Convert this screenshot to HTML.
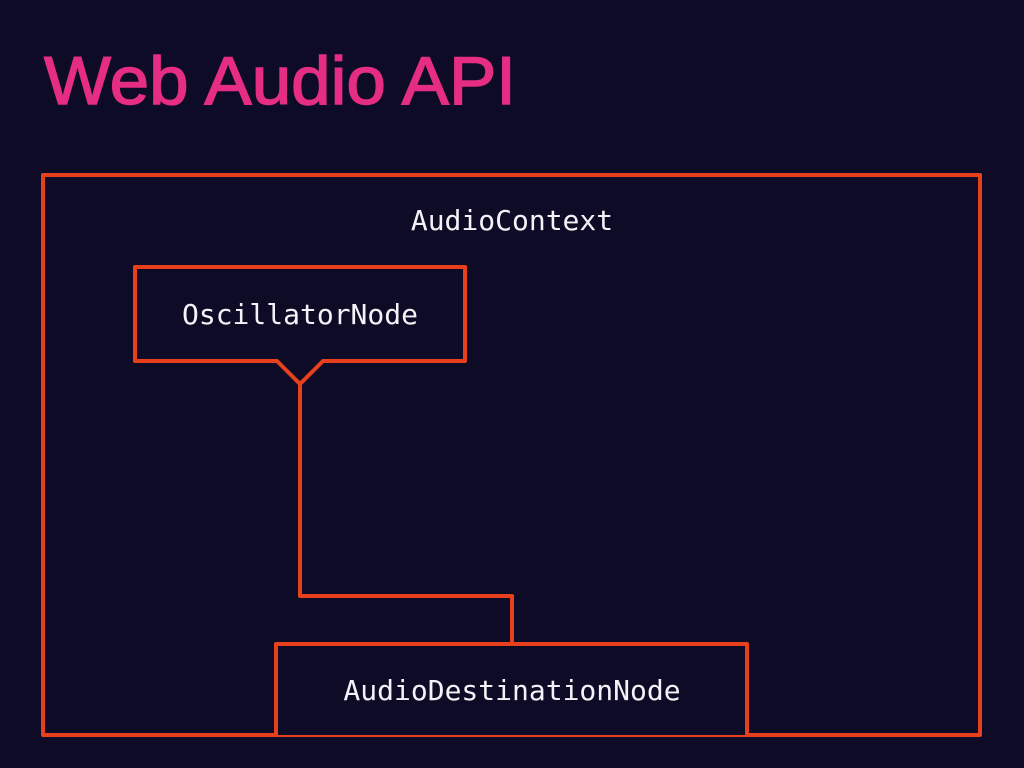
<!DOCTYPE html>
<html><head><style>
html,body{margin:0;padding:0;background:#0e0b26;}
svg{display:block}
</style></head><body>
<svg width="1024" height="768" xmlns="http://www.w3.org/2000/svg">
<rect width="1024" height="768" fill="#0e0b26"/>
<text x="44" y="104" font-family="Liberation Sans, sans-serif" font-size="68" fill="#e62d84" stroke="#e62d84" stroke-width="1.4" textLength="472" lengthAdjust="spacingAndGlyphs">Web Audio API</text>
<g fill="none" stroke="#e8401c" stroke-width="4" stroke-linejoin="round">
<rect x="43" y="175" width="937" height="560"/>
<path d="M135 267 H465 V361 H323 L300 384 L277 361 H135 Z" fill="#0e0b26"/>
<path d="M300 384 V596 H512 V644"/>
<path d="M276 735 V644 H747 V735" fill="#0e0b26"/>
</g>
<g font-family="DejaVu Sans Mono, Liberation Mono, monospace" font-size="28" fill="#f4f2f8" text-anchor="middle">
<text x="512" y="230">AudioContext</text>
<text x="300" y="324">OscillatorNode</text>
<text x="512" y="700">AudioDestinationNode</text>
</g>
</svg>
</body></html>
